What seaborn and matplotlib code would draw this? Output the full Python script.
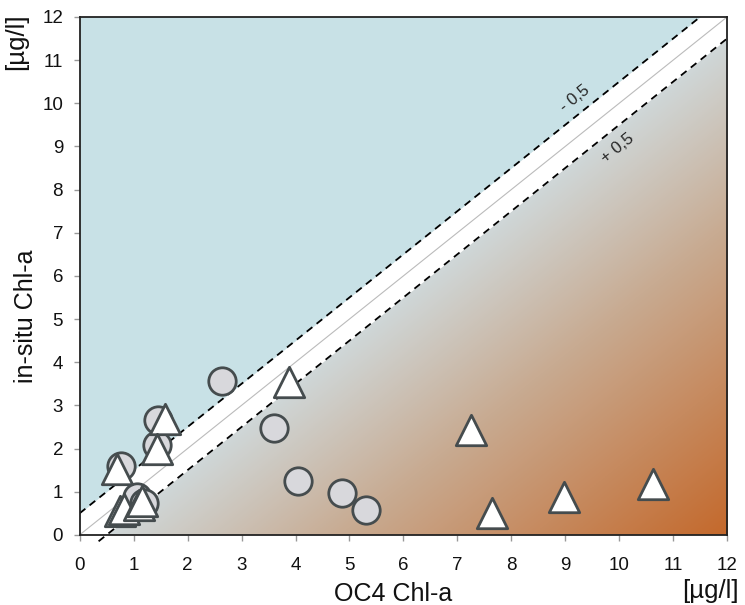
import numpy as np
import pandas as pd
import matplotlib
matplotlib.use("Agg")
import matplotlib.pyplot as plt
from matplotlib.colors import LinearSegmentedColormap
import seaborn as sns

# data (OC4 vs in-situ Chl-a, ug/l)
circle_x = [2.63, 1.45, 1.43, 0.76, 1.07, 1.20, 3.60, 4.04, 4.87, 5.31]
circle_y = [3.56, 2.65, 2.08, 1.59, 0.88, 0.74, 2.47, 1.25, 0.97, 0.58]
tri_x = [1.58, 1.44, 0.70, 0.74, 0.82, 1.10, 1.16, 3.87, 7.26, 7.65, 8.98, 10.63]
tri_y = [2.68, 1.99, 1.52, 0.55, 0.60, 0.68, 0.78, 3.53, 2.42, 0.50, 0.88, 1.18]
ticks = list(range(0, 13))
offset = 0.5

df_c = pd.DataFrame({"x": circle_x, "y": circle_y})
df_t = pd.DataFrame({"x": tri_x, "y": tri_y})

sns.set_theme(style="ticks")
plt.rcParams["font.family"] = ["Liberation Sans", "DejaVu Sans"]

fig, ax = plt.subplots(figsize=(7.45, 6.05), dpi=100)
fig.subplots_adjust(left=0.107, right=0.976, top=0.972, bottom=0.116)

# background: orange gradient below the band, blue above it
gx, gy = np.meshgrid(np.linspace(0, 12, 300), np.linspace(0, 12, 300))
grad = np.clip((gx - gy) / 12.0, 0, 1)
cmap = LinearSegmentedColormap.from_list(
    "oc4", [(0, "#d0dce0"), (0.4, "#c8ab92"), (1, "#c4692c")])
ax.imshow(grad, extent=[0, 12, 0, 12], origin="lower", cmap=cmap,
          aspect="auto", zorder=0)

xx = np.linspace(0, 12, 200)
ax.fill_between(xx, xx + offset, 12.5, color="#c8e1e6", lw=0, zorder=1)
ax.fill_between(xx, xx - offset, xx + offset, color="white", lw=0, zorder=1)

# 1:1 line and +/- 0.5 lines
ax.plot([0, 12], [0, 12], color="#bbbbbb", lw=0.8, zorder=2)
ax.plot([0, 11.5], [offset, 12], color="black", lw=1.3, dashes=(4, 3), zorder=2)
ax.plot([0.35, 12], [-0.15, 11.5], color="black", lw=1.3, dashes=(4, 3),
        zorder=2, clip_on=False)

ax.text(9.17, 10.1, "- 0,5", rotation=45, transform_rotates_text=True,
        rotation_mode="anchor", ha="center", va="center", fontsize=12, zorder=3)
ax.text(9.96, 8.96, "+ 0,5", rotation=45, transform_rotates_text=True,
        rotation_mode="anchor", ha="center", va="center", fontsize=12, zorder=3)

sns.scatterplot(data=df_c, x="x", y="y", marker="o", s=390, color="#d8d8dc",
                edgecolor="#454c4e", linewidth=2, ax=ax, zorder=4, clip_on=False)
sns.scatterplot(data=df_t, x="x", y="y", marker="^", s=480, color="white",
                edgecolor="#454c4e", linewidth=2, ax=ax, zorder=5, clip_on=False)

ax.set_xlim(0, 12)
ax.set_ylim(0, 12)
ax.set_xticks(ticks)
ax.set_yticks(ticks)
ax.tick_params(axis="both", direction="out", length=4, width=1, color="#999999",
               labelsize=13.5, labelcolor="#111111")
ax.tick_params(axis="x", pad=12)
ax.tick_params(axis="y", pad=8)
for sp in ax.spines.values():
    sp.set_color("#222222")
    sp.set_linewidth(1.3)
    sp.set_zorder(6)

ax.set_xlabel("OC4 Chl-a", fontsize=18, color="#111111")
ax.set_ylabel("in-situ Chl-a", fontsize=18, color="#111111")
ax.xaxis.set_label_coords(0.484, -0.091)
ax.yaxis.set_label_coords(-0.064, 0.422)

fig.text(0.006, 0.978, "[µg/l]", rotation=90, ha="left", va="top",
         fontsize=18.5, color="#111111")
fig.text(0.992, 0.003, "[µg/l]", ha="right", va="bottom",
         fontsize=18.5, color="#111111")

fig.savefig("out.png", dpi=100)
